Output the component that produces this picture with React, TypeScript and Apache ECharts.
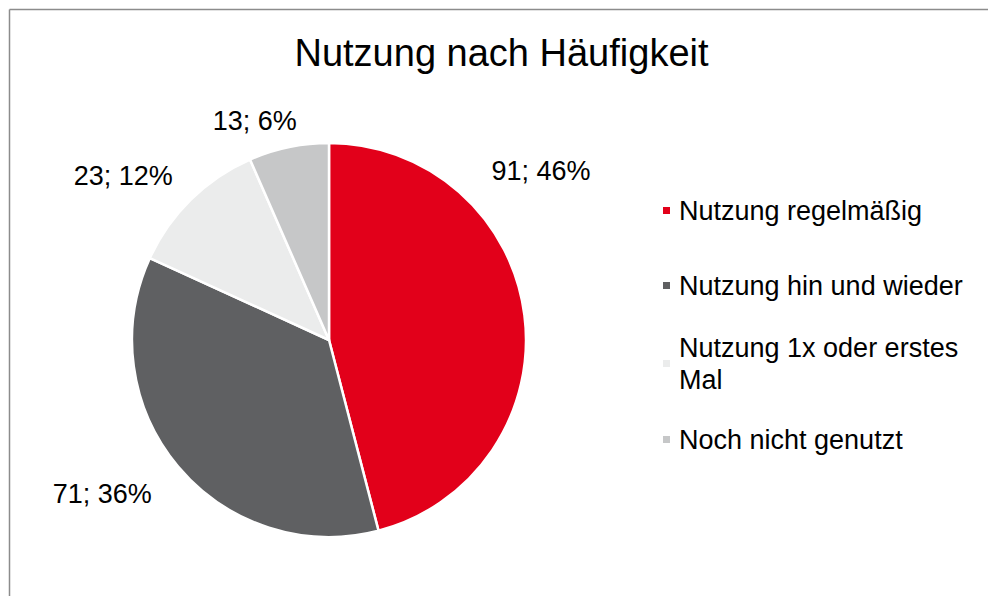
import React, { useEffect, useRef } from 'react';
import * as echarts from 'echarts';

// ---- data ----
const categories = [
  'Nutzung regelmäßig',
  'Nutzung hin und wieder',
  'Nutzung 1x oder erstes Mal',
  'Noch nicht genutzt',
];
const values = [91, 71, 23, 13];
const colors = ['#E2001A', '#5F6062', '#EBECEC', '#C6C7C8'];
const titleText = 'Nutzung nach Häufigkeit';

// ---- layout ----
const FONT = '"Liberation Sans", Arial, Helvetica, sans-serif';
const CX = 329;
const CY = 340;
const R = 197;
// label placement relative to pie centre (degrees clockwise from 12 o'clock, distance in radii)
const labelAngles = [51.5, 235.9, 308.5, 341.3];
const labelDist = [1.375, 1.39, 1.335, 1.175];
const legendCenters = [210.5, 285.5, 363.5, 439.5];
const LEGEND_LEFT = 661;
const LINE_H = 32;

export default function App() {
  const ref = useRef<HTMLDivElement>(null);

  useEffect(() => {
    if (!ref.current) return;
    const chart = echarts.init(ref.current, undefined, { renderer: 'svg' });

    const legends = categories.map((name, i) => {
      const wrapped = i === 2; // this entry wraps onto a second line
      return {
        orient: 'vertical',
        left: LEGEND_LEFT,
        top: wrapped ? legendCenters[i] - LINE_H * 1.5 : legendCenters[i] - LINE_H / 2,
        padding: 0,
        itemWidth: 9,
        itemHeight: 9,
        icon: 'rect',
        selectedMode: false,
        data: [name],
        textStyle: {
          fontFamily: FONT,
          fontSize: 27,
          color: '#000',
          lineHeight: LINE_H,
          width: 300,
          overflow: 'break',
          padding: wrapped ? [LINE_H, 0, 0, 3] : [0, 0, 0, 3],
        },
      };
    });

    chart.setOption({
      animation: false,
      backgroundColor: '#ffffff',
      color: colors,
      title: {
        text: titleText,
        left: 496.5,
        top: 29,
        textAlign: 'center',
        textStyle: {
          fontFamily: FONT,
          fontSize: 38,
          fontWeight: 'normal',
          color: '#000',
        },
      },
      legend: legends,
      graphic: [
        {
          type: 'line',
          shape: { x1: 9.5, y1: 9.5, x2: 988, y2: 9.5 },
          style: { stroke: '#8c8c8c', lineWidth: 1.5 },
        },
        {
          type: 'line',
          shape: { x1: 9.5, y1: 9.5, x2: 9.5, y2: 596 },
          style: { stroke: '#8c8c8c', lineWidth: 1.5 },
        },
      ],
      series: [
        {
          type: 'pie',
          center: [CX, CY],
          radius: R,
          startAngle: 90,
          clockwise: true,
          percentPrecision: 0,
          avoidLabelOverlap: false,
          itemStyle: { borderColor: '#ffffff', borderWidth: 2.5 },
          label: {
            show: true,
            position: 'outside',
            formatter: '{c}; {d}%',
            fontFamily: FONT,
            fontSize: 27,
            color: '#000',
          },
          labelLine: { show: false },
          labelLayout: (params: any) => {
            const i = params.dataIndex;
            const a = (labelAngles[i] * Math.PI) / 180;
            const d = labelDist[i] * R;
            return {
              x: CX + d * Math.sin(a),
              y: CY - d * Math.cos(a),
              align: 'center',
              verticalAlign: 'middle',
            };
          },
          emphasis: { disabled: true },
          data: categories.map((name, i) => ({ name, value: values[i] })),
        },
      ],
    });

    return () => chart.dispose();
  }, []);

  return (
    <div
      ref={ref}
      style={{ position: 'fixed', left: 0, top: 0, width: 988, height: 596, background: '#fff' }}
    />
  );
}
